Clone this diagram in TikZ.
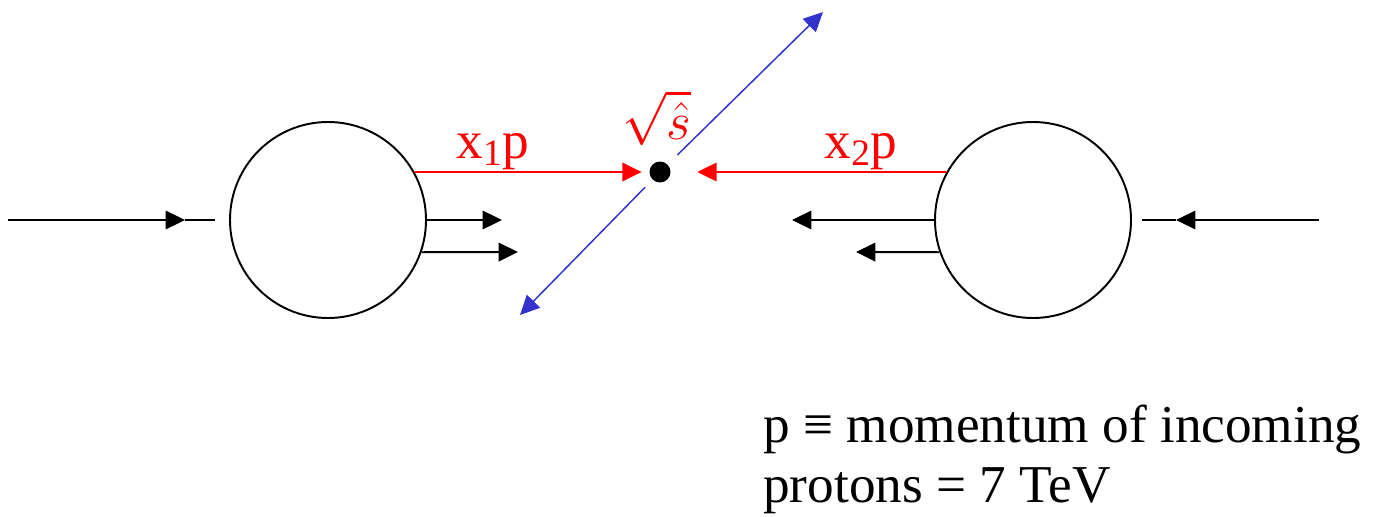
\documentclass[tikz,border=0pt]{standalone}
\usepackage{fix-cm}
\usepackage{fontspec}
\setmainfont{Liberation Serif}
\usepackage{tikz}
\usetikzlibrary{arrows.meta,positioning}

\definecolor{jetblue}{RGB}{51,51,204}

\tikzset{
  ball/.style={circle, draw, line width=1.1pt, minimum size=3.92cm, inner sep=0pt},
  vertex/.style={circle, fill=black, minimum size=0.42cm, inner sep=0pt},
  tip/.style={-{Triangle[length=11pt,width=10.5pt]}},
  beam/.style={tip, line width=1.1pt},
  parton/.style={tip, red, line width=1.1pt},
  jet/.style={tip, jetblue, line width=0.85pt},
  lbl/.style={font=\fontsize{30.3}{34}\selectfont}
}

\begin{document}
\begin{tikzpicture}[x=0.2mm, y=-0.2mm]
    \useasboundingbox (0,0) rectangle (1379,516);

    % Protons
    \node[ball] (pA) at (328,220) {};
    \node[ball] (pB) at (1033,220) {};

    % Hard scatter
    \node[vertex] (vtx) at (660,172) {};

    % Incoming beams
    \coordinate (inA) at (8,220);
    \coordinate (midA) at (185,220);
    \coordinate (endA) at (215,220);
    \draw[beam] (inA) -- (midA);
    \draw[line width=1.1pt] (midA) -- (endA);

    \coordinate (inB) at (1319,220);
    \coordinate (midB) at (1176,220);
    \coordinate (endB) at (1142,220);
    \draw[beam] (inB) -- (midB);
    \draw[line width=1.1pt] (midB) -- (endB);

    % Partons leaving the protons
    \coordinate (qA1) at (502,220);
    \coordinate (qA2) at (518,252);
    \draw[beam] (pA.east) -- (qA1);
    \draw[beam] (pA.-19) -- (qA2);

    \coordinate (qB1) at (792,220);
    \coordinate (qB2) at (856,252);
    \draw[beam] (pB.west) -- (qB1);
    \draw[beam] (pB.199) -- (qB2);

    % Colliding partons
    \draw[parton, shorten >=4.3pt] (pA.29) -- (vtx);
    \draw[parton, shorten >=15pt] (pB.151) -- (vtx);
    \node[lbl, red, anchor=base] (xA) at (493,158) {x\textsubscript{1}p};
    \node[lbl, red, anchor=base] (xB) at (861,158) {x\textsubscript{2}p};
    \node[lbl, red] (shat) at (657,118) {$\sqrt{\hat{s}}$};

    % Outgoing jets
    \coordinate (jetA) at (823,12);
    \coordinate (jetB) at (520,315);
    \draw[jet, shorten <=7.7pt] (vtx) -- (jetA);
    \draw[jet, shorten <=6pt] (vtx) -- (jetB);

    % Note
    \node[lbl, anchor=north west, align=left, inner sep=0pt] (note) at (763,405)
        {p ≡ momentum of incoming\\protons = 7 TeV};
\end{tikzpicture}
\end{document}
